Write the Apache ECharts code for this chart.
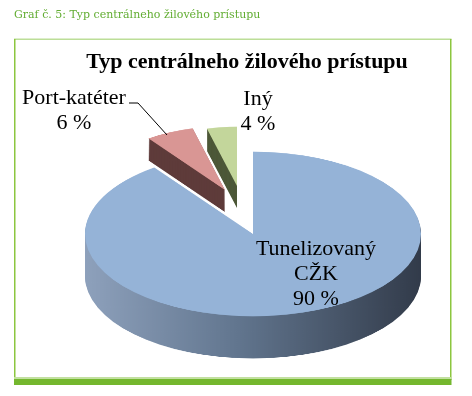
<!DOCTYPE html>
<html>
<head>
<meta charset="utf-8">
<script src="https://cdn.jsdelivr.net/npm/echarts@6/dist/echarts.min.js"></script>
<style>
html,body{margin:0;padding:0;background:#fff;width:472px;height:396px;overflow:hidden;}
#wrap{position:relative;width:472px;height:396px;}
#pie{position:absolute;left:0;top:0;width:472px;height:808px;transform:scaleY(0.49);transform-origin:0 0;}
#over{position:absolute;left:0;top:0;width:472px;height:396px;}
</style>
</head>
<body>
<div id="wrap"><div id="pie"></div><div id="over"></div></div>
<script>
// ---- data ----
const categories = ['Tunelizovaný CŽK', 'Port-katéter', 'Iný'];
const values = [90, 6, 4];
const labelLines = [['Tunelizovaný', 'CŽK'], ['Port-katéter'], ['Iný']];
const chartTitle = 'Typ centrálneho žilového prístupu';
const figureCaption = 'Graf č. 5: Typ centrálneho žilového prístupu';

// ---- styling ----
const S = 0.49; // vertical squash of the pie canvas
const topColors = ['#95B3D7', '#D99694', '#C3D69B'];
const sideColors = [
  {type:'linear', x:0, y:0, x2:1, y2:0, colorStops:[
    {offset:0, color:'#8ea1bc'}, {offset:0.45, color:'#62768f'}, {offset:1, color:'#323b4a'}]},
  '#5e3b3a',
  '#4d5838'
];
// screen geometry of each slice: vertex x, vertex y (screen), radius, depth (screen px)
const geo = [
  {x:253, y:234, r:168, depth:42},
  {x:225, y:190, r:130, depth:22},
  {x:237, y:186, r:121, depth:22}
];

function pieSeries(idx, dy, color) {
  const g = geo[idx];
  return {
    type:'pie', silent:true, animation:false,
    startAngle:90, clockwise:true, avoidLabelOverlap:false,
    center:[g.x, g.y / S + dy], radius:[0, g.r],
    label:{show:false}, labelLine:{show:false},
    emphasis:{disabled:true},
    itemStyle:{borderWidth:0},
    data: values.map((v, i) => ({
      value:v, name:categories[i],
      itemStyle:{color: i === idx ? color : 'rgba(0,0,0,0)'}
    }))
  };
}

const series = [];
[1, 2, 0].forEach(idx => {
  const d = Math.round(geo[idx].depth / S);
  for (let k = d; k > 0; k -= 2) series.push(pieSeries(idx, k, sideColors[idx]));
  series.push(pieSeries(idx, 0, topColors[idx]));
});

const pie = echarts.init(document.getElementById('pie'), null, {renderer:'canvas'});
pie.setOption({animation:false, series});

// ---- overlay: frame, titles, labels ----
const serif = 'Liberation Serif';
const lblFont = {fontFamily:serif, fontSize:22, fill:'#000', lineHeight:25};
function labelText(i) { return labelLines[i].join('\n') + '\n' + values[i] + ' %'; }

const over = echarts.init(document.getElementById('over'), null, {renderer:'canvas'});
over.setOption({
  animation:false,
  graphic:[
    {type:'text', left:14, top:10, style:{text:figureCaption, fontFamily:'DejaVu Serif', fontSize:11, fill:'#62ad32'}},
    {type:'rect', shape:{x:14, y:38.5, width:437.5, height:1.5}, style:{fill:'#bcde98'}},
    {type:'rect', shape:{x:14, y:39, width:1.5, height:341}, style:{fill:'#8cc63f'}},
    {type:'rect', shape:{x:450, y:39, width:1.5, height:341}, style:{fill:'#8cc63f'}},
    {type:'rect', shape:{x:14, y:377, width:437.5, height:2}, style:{fill:'#c2e0a0'}},
    {type:'rect', shape:{x:14, y:379, width:437.5, height:6}, style:{fill:'#74b72e'}},
    {type:'text', x:247, y:62, style:{text:chartTitle, fontFamily:serif, fontSize:22, fontWeight:'bold', fill:'#000', textAlign:'center', textVerticalAlign:'middle'}},
    {type:'text', x:74, y:111, style:Object.assign({text:labelText(1), textAlign:'center', textVerticalAlign:'middle'}, lblFont)},
    {type:'text', x:258, y:112, style:Object.assign({text:labelText(2), textAlign:'center', textVerticalAlign:'middle'}, lblFont)},
    {type:'text', x:316, y:274, style:Object.assign({text:labelText(0), textAlign:'center', textVerticalAlign:'middle'}, lblFont)},
    {type:'polyline', shape:{points:[[129,103],[138,103],[167,135]]}, style:{stroke:'#000', lineWidth:1, fill:null}}
  ]
});
</script>
</body>
</html>
